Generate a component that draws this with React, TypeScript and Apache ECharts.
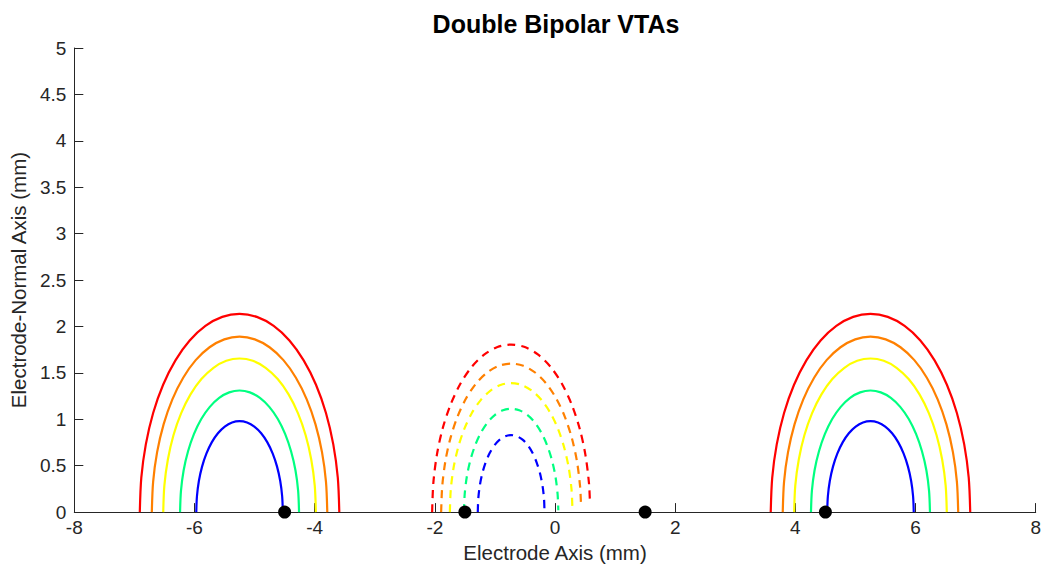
import { useEffect, useRef } from "react";
import * as echarts from "echarts";

// Contact positions along the electrode (mm)
const contactX = [-4.5, -1.5, 1.5, 4.5];

// Centres of the VTA contour families (mm along the electrode)
const outerCentres = [-5.25, 5.25];
const innerCentre = -0.73;

// Contour colours, from the smallest to the largest level
const levelColors = ["#0000FF", "#00FF80", "#FFFF00", "#FF8000", "#FF0000"];

// Outer (solid) contours: [offset from centre, height] in mm
const outerBlue = [
  [-0.72, 0], [-0.709, 0.171], [-0.677, 0.335], [-0.624, 0.49], [-0.552, 0.63], [-0.463, 0.751], [-0.36, 0.849],
  [-0.246, 0.921], [-0.125, 0.965], [0, 0.98], [0.125, 0.965], [0.246, 0.921], [0.36, 0.849], [0.463, 0.751],
  [0.552, 0.63], [0.624, 0.49], [0.677, 0.335], [0.709, 0.171], [0.72, 0],
];
const outerGreen = [
  [-0.99, 0], [-0.975, 0.228], [-0.931, 0.448], [-0.857, 0.655], [-0.758, 0.842], [-0.637, 1.003], [-0.495, 1.134],
  [-0.339, 1.231], [-0.172, 1.29], [0, 1.31], [0.172, 1.29], [0.339, 1.231], [0.495, 1.134], [0.637, 1.003],
  [0.758, 0.842], [0.857, 0.655], [0.931, 0.448], [0.975, 0.228], [0.99, 0],
];
const outerYellow = [
  [-1.27, 0], [-1.251, 0.287], [-1.193, 0.566], [-1.1, 0.828], [-0.973, 1.064], [-0.816, 1.268], [-0.635, 1.433],
  [-0.434, 1.555], [-0.221, 1.63], [0, 1.655], [0.221, 1.63], [0.434, 1.555], [0.635, 1.433], [0.816, 1.268],
  [0.973, 1.064], [1.1, 0.828], [1.193, 0.566], [1.251, 0.287], [1.27, 0],
];
const outerOrange = [
  [-1.46, 0], [-1.438, 0.328], [-1.372, 0.646], [-1.264, 0.945], [-1.118, 1.215], [-0.938, 1.448], [-0.73, 1.637],
  [-0.499, 1.776], [-0.254, 1.861], [0, 1.89], [0.254, 1.861], [0.499, 1.776], [0.73, 1.637], [0.938, 1.448],
  [1.118, 1.215], [1.264, 0.945], [1.372, 0.646], [1.438, 0.328], [1.46, 0],
];
const outerRed = [
  [-1.66, 0], [-1.635, 0.371], [-1.56, 0.73], [-1.438, 1.068], [-1.272, 1.372], [-1.067, 1.635], [-0.83, 1.849],
  [-0.568, 2.006], [-0.288, 2.103], [0, 2.135], [0.288, 2.103], [0.568, 2.006], [0.83, 1.849], [1.067, 1.635],
  [1.272, 1.372], [1.438, 1.068], [1.56, 0.73], [1.635, 0.371], [1.66, 0],
];

// Inner (dashed) contours: [offset from centre, height] in mm
const innerBlue = [
  [-0.555, 0], [-0.547, 0.144], [-0.522, 0.284], [-0.481, 0.415], [-0.425, 0.534], [-0.357, 0.636], [-0.278, 0.719],
  [-0.19, 0.78], [-0.096, 0.817], [0, 0.83], [0.096, 0.817], [0.19, 0.78], [0.278, 0.719], [0.357, 0.636],
  [0.425, 0.534], [0.481, 0.415], [0.522, 0.284], [0.547, 0.144], [0.555, 0],
];
const innerGreen = [
  [-0.785, 0], [-0.773, 0.193], [-0.738, 0.381], [-0.68, 0.557], [-0.601, 0.716], [-0.505, 0.853], [-0.393, 0.965],
  [-0.268, 1.047], [-0.136, 1.097], [0, 1.114], [0.136, 1.097], [0.268, 1.047], [0.393, 0.965], [0.505, 0.853],
  [0.601, 0.716], [0.68, 0.557], [0.738, 0.381], [0.773, 0.193], [0.785, 0.02],
];
const innerYellow = [
  [-1.02, 0], [-1.005, 0.241], [-0.959, 0.475], [-0.883, 0.695], [-0.781, 0.894], [-0.656, 1.065], [-0.51, 1.204],
  [-0.349, 1.306], [-0.177, 1.369], [0, 1.39], [0.177, 1.369], [0.349, 1.306], [0.51, 1.204], [0.656, 1.065],
  [0.781, 0.894], [0.883, 0.695], [0.959, 0.475], [1.005, 0.241], [1.019, 0.05],
];
const innerOrange = [
  [-1.165, 0], [-1.147, 0.278], [-1.095, 0.547], [-1.009, 0.8], [-0.892, 1.029], [-0.749, 1.226], [-0.583, 1.386],
  [-0.398, 1.504], [-0.202, 1.576], [0, 1.6], [0.202, 1.576], [0.398, 1.504], [0.583, 1.386], [0.749, 1.226],
  [0.892, 1.029], [1.009, 0.8], [1.095, 0.547], [1.147, 0.278], [1.162, 0.09],
];
const innerRed = [
  [-1.315, 0], [-1.295, 0.313], [-1.236, 0.617], [-1.139, 0.903], [-1.007, 1.16], [-0.845, 1.383], [-0.658, 1.563],
  [-0.45, 1.696], [-0.228, 1.778], [0, 1.805], [0.228, 1.778], [0.45, 1.696], [0.658, 1.563], [0.845, 1.383],
  [1.007, 1.16], [1.139, 0.903], [1.236, 0.617], [1.295, 0.313], [1.311, 0.11],
];

const outerContours = [outerBlue, outerGreen, outerYellow, outerOrange, outerRed];
const innerContours = [innerBlue, innerGreen, innerYellow, innerOrange, innerRed];

const FONT = '"Liberation Sans", Arial, Helvetica, sans-serif';
const AXIS_COLOR = "#262626";

function shift(points: number[][], centre: number) {
  return points.map(([dx, y]) => [centre + dx, y]);
}

export default function App() {
  const ref = useRef<HTMLDivElement>(null);

  useEffect(() => {
    if (!ref.current) return;
    const chart = echarts.init(ref.current, undefined, { renderer: "svg" });

    const series: any[] = [];
    outerCentres.forEach((c) => {
      outerContours.forEach((pts, i) => {
        series.push({
          type: "line",
          data: shift(pts, c),
          smooth: 0.3,
          showSymbol: false,
          symbol: "none",
          lineStyle: { color: levelColors[i], width: 2.2, cap: "butt" },
          z: 2,
        });
      });
    });
    innerContours.forEach((pts, i) => {
      series.push({
        type: "line",
        data: shift(pts, innerCentre),
        smooth: 0.3,
        showSymbol: false,
        symbol: "none",
        lineStyle: { color: levelColors[i], width: 2.2, type: [8, 6], cap: "butt" },
        z: 2,
      });
    });
    series.push({
      type: "scatter",
      data: contactX.map((x) => [x, 0]),
      symbol: "circle",
      symbolSize: 13,
      itemStyle: { color: "#000000", opacity: 1 },
      clip: false,
      z: 5,
    });

    chart.setOption({
      animation: false,
      backgroundColor: "#ffffff",
      title: {
        text: "Double Bipolar VTAs",
        left: 556,
        top: 11,
        textAlign: "center",
        padding: 0,
        textStyle: { fontFamily: FONT, fontSize: 25, fontWeight: "bold", color: "#000000" },
      },
      grid: { left: 72, right: 2, top: 48, bottom: 50, containLabel: false },
      xAxis: {
        type: "value",
        min: -8,
        max: 8,
        interval: 2,
        name: "Electrode Axis (mm)",
        nameLocation: "middle",
        nameGap: 27,
        nameTextStyle: { fontFamily: FONT, fontSize: 20.5, color: AXIS_COLOR, verticalAlign: "top" },
        axisLine: { show: true, onZero: false, lineStyle: { color: AXIS_COLOR, width: 1 } },
        axisTick: { show: true, inside: true, length: 9, lineStyle: { color: AXIS_COLOR } },
        axisLabel: { fontFamily: FONT, fontSize: 19, color: AXIS_COLOR, margin: 6 },
        splitLine: { show: false },
      },
      yAxis: {
        type: "value",
        min: 0,
        max: 5,
        interval: 0.5,
        name: "Electrode-Normal Axis (mm)",
        nameLocation: "middle",
        nameGap: 41,
        nameTextStyle: { fontFamily: FONT, fontSize: 20.5, color: AXIS_COLOR },
        axisLine: { show: true, onZero: false, lineStyle: { color: AXIS_COLOR, width: 1 } },
        axisTick: { show: true, inside: true, length: 9, lineStyle: { color: AXIS_COLOR } },
        axisLabel: { fontFamily: FONT, fontSize: 19, color: AXIS_COLOR, margin: 8 },
        splitLine: { show: false },
      },
      series,
    });

    return () => chart.dispose();
  }, []);

  return (
    <div
      ref={ref}
      style={{ position: "fixed", left: 0, top: 0, width: 1044, height: 568, background: "#ffffff" }}
    />
  );
}
